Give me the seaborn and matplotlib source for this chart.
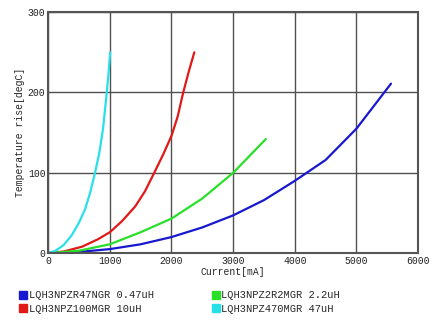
import pandas as pd
import seaborn as sns
import matplotlib.pyplot as plt
from matplotlib.lines import Line2D

# 読み取った値 (Current[mA], Temperature rise[degC])
blue_x = [0, 500, 1000, 1500, 2000, 2500, 3000, 3500, 4000, 4500, 5000, 5560]
blue_y = [0, 1.5, 5, 11, 20, 32, 47, 66, 90, 116, 155, 211]
green_x = [0, 500, 1000, 1500, 2000, 2500, 3000, 3530]
green_y = [0, 3, 11, 26, 43, 68, 100, 142]
red_x = [0, 250, 550, 800, 1000, 1200, 1410, 1570, 1720, 1860, 2000, 2100, 2190, 2280, 2370]
red_y = [0, 2, 8, 17, 26, 40, 58, 77, 100, 122, 146, 170, 200, 226, 250]
cyan_x = [0, 120, 250, 380, 500, 600, 680, 760, 830, 890, 950, 980, 1005]
cyan_y = [0, 3, 10, 22, 38, 55, 75, 100, 125, 155, 200, 225, 250]

names = ["LQH3NPZR47NGR 0.47uH", "LQH3NPZ100MGR 10uH",
         "LQH3NPZ2R2MGR 2.2uH", "LQH3NPZ470MGR 47uH"]
colors = ["#1818d0", "#e01818", "#28e028", "#28e0e8"]

df = pd.concat([
    pd.DataFrame({"current": blue_x, "temp": blue_y, "part": names[0]}),
    pd.DataFrame({"current": red_x, "temp": red_y, "part": names[1]}),
    pd.DataFrame({"current": green_x, "temp": green_y, "part": names[2]}),
    pd.DataFrame({"current": cyan_x, "temp": cyan_y, "part": names[3]}),
])

sns.set_style("white")
plt.rcParams['font.family'] = ['Liberation Mono', 'DejaVu Sans Mono']

fig = plt.figure(figsize=(4.42, 3.2), dpi=100)
ax = fig.add_axes([0.109, 0.209, 0.837, 0.753])
sns.lineplot(data=df, x="current", y="temp", hue="part", palette=dict(zip(names, colors)),
             sort=False, estimator=None, lw=1.6, legend=False, ax=ax)

ax.set_xlim(0, 6000)
ax.set_ylim(0, 300)
ax.set_xticks(range(0, 6001, 1000))
ax.set_yticks(range(0, 301, 100))
ax.grid(True, color="#505050", lw=1.0)
for s in ax.spines.values():
    s.set_color("#555555")
    s.set_linewidth(1.5)
ax.tick_params(length=0, labelsize=7, pad=2, colors="#222222")
ax.set_xlabel("Current[mA]", fontsize=7, labelpad=1)
ax.set_ylabel("Temperature rise[degC]", fontsize=7, labelpad=2)

handles = [Line2D([], [], marker="s", ls="none", color=c, markersize=6) for c in colors]
fig.legend(handles, names, loc="lower left", bbox_to_anchor=(0.02, -0.01), ncol=2,
           frameon=False, fontsize=7.5, handletextpad=0.0, columnspacing=5.5,
           labelspacing=0.35, handlelength=1.0)

fig.savefig("out.png", dpi=100)
